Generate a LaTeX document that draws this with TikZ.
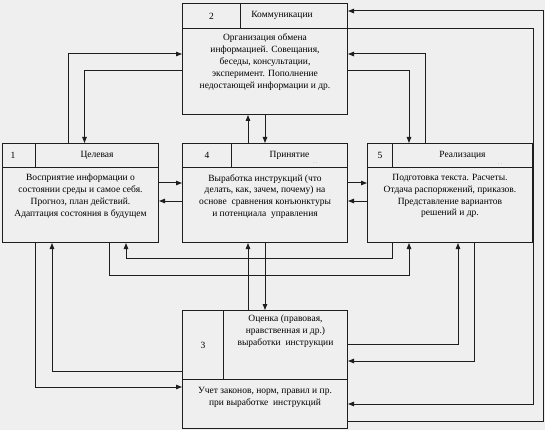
\documentclass[tikz,border=0pt]{standalone}
\usepackage{fontspec}
\setmainfont{Liberation Serif}
\usetikzlibrary{arrows.meta,positioning}
\definecolor{bgcol}{HTML}{EFEFEF}
\definecolor{linecol}{HTML}{1E1E1E}
\tikzset{
  cell/.style={draw=linecol, line width=1pt, fill=bgcol, inner sep=0pt, anchor=north west,
    font=\fontsize{9.5}{11.8}\selectfont},
  txt/.style={align=center, inner sep=0pt, font=\fontsize{9.5}{11.8}\selectfont},
  dots/.style={font=\fontsize{5}{5}\selectfont, text=gray, inner sep=0pt},
  link/.style={draw=linecol, line width=1pt},
  >={Triangle[length=6pt,width=4.5pt]}
}
\begin{document}
\begin{tikzpicture}[x=1pt,y=-1pt]
  \fill[bgcol] (0,0) rectangle (545,430);
  \useasboundingbox (0,0) rectangle (545,430);
  % 2
  \node[cell, minimum width=58, minimum height=25] (n2) at (182,3) {2};
  \node[cell, minimum width=107, minimum height=25] (t2) at (240,3) {};
  \node[txt] (h2) at (282,15.5) {Коммуникации};
  \node[cell, minimum width=165, minimum height=86] (b2) at (182,28) {};
  \node[txt, below=6pt of b2.north] (x2) {Организация обмена\\информацией. Совещания,\\беседы, консультации,\\эксперимент. Пополнение\\недостающей информации и др.};
  % 1
  \node[cell, minimum width=33, minimum height=24] (n1) at (2,143) {};
  \node[txt] (m1) at (13,155) {1};
  \node[cell, minimum width=123, minimum height=24] (t1) at (35,143) {Целевая};
  \node[cell, minimum width=156, minimum height=75] (b1) at (2,167) {};
  \node[txt, below=7pt of b1.north] (x1) {Восприятие информации о\\состоянии среды и самое себя.\\Прогноз, план действий.\\Адаптация состояния в будущем};
  % 4
  \node[cell, minimum width=49, minimum height=24] (n4) at (182,143) {4};
  \node[cell, minimum width=116, minimum height=24] (t4) at (231,143) {Принятие};
  \node[dots] (d4) at (315,163) {. .};
  \node[cell, minimum width=165, minimum height=75] (b4) at (182,167) {};
  \node[txt, below=7pt of b4.north] (x4) {Выработка инструкций (что\\делать, как, зачем, почему) на\\основе\ \ сравнения конъюнктуры\\и потенциала\ \ управления};
  % 5
  \node[cell, minimum width=25, minimum height=24] (n5) at (367,143) {5};
  \node[cell, minimum width=140, minimum height=24] (t5) at (392,143) {Реализация};
  \node[dots] (d5) at (500,164) {. .};
  \node[cell, minimum width=165, minimum height=75] (b5) at (367,167) {};
  \node[txt, below=7pt of b5.north] (x5) {Подготовка текста. Расчеты.\\Отдача распоряжений, приказов.\\Представление вариантов\\решений и др.};
  % 3
  \node[cell, minimum width=41, minimum height=69] (n3) at (182,310) {3};
  \node[cell, minimum width=124, minimum height=69] (t3) at (223,310) {};
  \node[txt, below=5pt of t3.north] (y3) {Оценка (правовая,\\нравственная и др.)\\выработки\ \ инструкции};
  \node[cell, minimum width=165, minimum height=49] (b3) at (182,379) {};
  \node[txt, below=8pt of b3.north] (x3) {Учет законов, норм, правил и пр.\\при выработке\ \ инструкций};

  % links round 2
  \draw[link,->] (b3.east |- 0,421) -- (543,421) -- (543,11) -- (t2.east |- 0,11);
  \draw[link,->] (b2.east |- 0,28.5) -- (533.5,28.5) -- (533.5,404) -- (b3.east |- 0,404);
  \draw[link,->] (t1.north -| 68,0) -- (68,54) -- (b2.west |- 0,54);
  \draw[link,->] (b2.west |- 0,71) -- (84.5,71) -- (t1.north -| 84.5,0);
  \draw[link,->] (t5.north -| 425,0) -- (425,54) -- (b2.east |- 0,54);
  \draw[link,->] (b2.east |- 0,71) -- (409,71) -- (t5.north -| 409,0);
  \draw[link,->] (t4.north -| 248,0) -- (b2.south -| 248,0);
  \draw[link,->] (b2.south -| 265,0) -- (t4.north -| 265,0);
  % middle row
  \draw[link,->] (b1.east |- 0,183) -- (b4.west |- 0,183);
  \draw[link,->] (b4.west |- 0,201) -- (b1.east |- 0,201);
  \draw[link,->] (b4.east |- 0,183) -- (b5.west |- 0,183);
  \draw[link,->] (b5.west |- 0,201) -- (b4.east |- 0,201);
  \draw[link,->] (b5.south -| 392,0) -- (392,258) -- (126,258) -- (b1.south -| 126,0);
  \draw[link,->] (b1.south -| 109,0) -- (109,275) -- (409,275) -- (b5.south -| 409,0);
  % links round 3
  \draw[link,->] (t3.north -| 248,0) -- (b4.south -| 248,0);
  \draw[link,->] (b4.south -| 265,0) -- (t3.north -| 265,0);
  \draw[link,->] (n3.west |- 0,371) -- (52,371) -- (b1.south -| 52,0);
  \draw[link,->] (b1.south -| 35,0) -- (35,387) -- (b3.west |- 0,387);
  \draw[link,->] (t3.east |- 0,344) -- (458,344) -- (b5.south -| 458,0);
  \draw[link,->] (b5.south -| 474,0) -- (474,361) -- (t3.east |- 0,361);
\end{tikzpicture}
\end{document}
